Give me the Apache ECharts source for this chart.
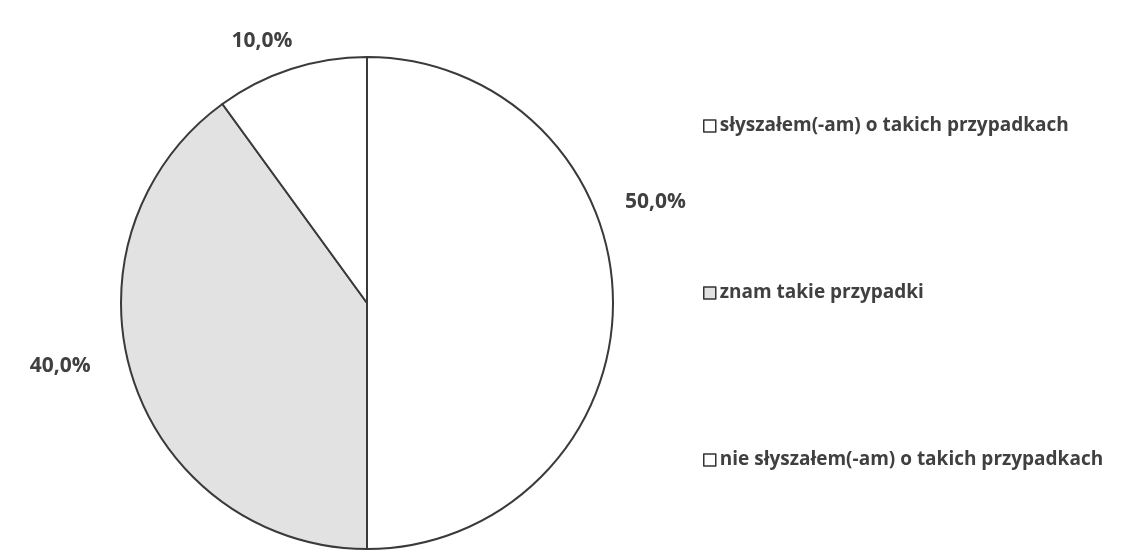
<!DOCTYPE html>
<html><head><meta charset="utf-8">
<script src="https://cdn.jsdelivr.net/npm/echarts@6/dist/echarts.min.js"></script>
<style>html,body{margin:0;padding:0;background:#fff}#c{width:1147px;height:559px}</style>
</head><body><div id="c"></div>
<script>
var categories = ['słyszałem(-am) o takich przypadkach', 'znam takie przypadki', 'nie słyszałem(-am) o takich przypadkach'];
var values = [50.0, 40.0, 10.0];
var colors = ['#ffffff', '#e2e2e2', '#ffffff'];
var labelShift = [[-23, -101], [-8, -18], [26, -14]];

var chart = echarts.init(document.getElementById('c'));
chart.setOption({
  animation: false,
  backgroundColor: '#fff',
  legend: {
    orient: 'vertical',
    left: 703, top: 115, padding: 0,
    itemWidth: 12, itemHeight: 12, itemGap: 145,
    icon: 'rect',
    itemStyle: { borderColor: '#333', borderWidth: 1.5 },
    textStyle: { fontFamily: 'Open Sans', fontWeight: 'bold', fontSize: 19, color: '#404040', lineHeight: 22, padding: [0,0,0,-1] },
    data: categories
  },
  series: [{
    type: 'pie',
    center: [367, 303],
    radius: [0, 246],
    startAngle: 90,
    clockwise: true,
    silent: true,
    itemStyle: { borderColor: '#3a3a3a', borderWidth: 2 },
    label: {
      show: true, position: 'outside',
      formatter: function (p) { return p.value.toFixed(1).replace('.', ',') + '%'; },
      fontFamily: 'Open Sans', fontWeight: 'bold', fontSize: 21, color: '#404040'
    },
    labelLine: { show: false, length: 15, length2: 15 },
    labelLayout: function (p) { var s = labelShift[p.dataIndex]; return { dx: s[0], dy: s[1] }; },
    data: categories.map(function (n, i) { return { name: n, value: values[i], itemStyle: { color: colors[i] } }; })
  }]
});
</script></body></html>
